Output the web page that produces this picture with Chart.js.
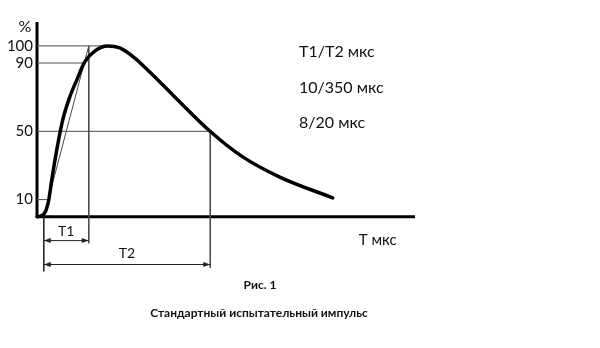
<!DOCTYPE html>
<html lang="ru">
<head>
<meta charset="utf-8">
<title>Стандартный испытательный импульс</title>
<script src="https://cdn.jsdelivr.net/npm/chart.js@4/dist/chart.umd.min.js"></script>
<style>
  html, body { margin: 0; padding: 0; background: #fff; }
  #wrap { width: 600px; height: 348px; }
</style>
</head>
<body>
<div id="wrap"><canvas id="pulse" width="600" height="348"></canvas></div>
<script>
// Impulse shape: time (relative units, virtual origin at 0) and amplitude, %
const impulseT = [-1.5, -0.67, 0.22, 0.67, 1.11, 1.78, 2.89, 4.22, 5.78, 7.33, 9.11, 11.33, 14.22, 16.89, 20.22, 23.56, 28.67, 36.89, 44.22, 52.44, 64.22];
const impulseV = [0, 0.4, 2.2, 5.1, 9.8, 21.5, 39.1, 56.7, 70.1, 80.0, 90.6, 97.0, 100, 98.8, 92.9, 84.7, 71.3, 50.2, 35.0, 23.2, 11.0];

// Amplitude levels marked on the vertical axis and where each guide line stops
const levelTicks = [10, 50, 90, 100];
const levelEnds = [1, 37, 9, 13];

// Front time T1 and half-value time T2, counted from the virtual origin T0
const T0 = 0;
const T1 = 10;
const T2 = 37;
const timeLabels = ['T1', 'T2'];
const arrowLevels = [-14, -28];        // height of the dimension arrows, %
const dropLevels = [-32, -15.5, -30];  // lower ends of the T0, T1, T2 extension lines, %

// Axis extents
const xStart = -1.5;
const xEnd = 82.5;
const yTop = 114;

const legendLines = ['T1/T2 мкс', '10/350 мкс', '8/20 мкс'];
const yAxisTitle = '%';
const xAxisTitle = 'Т мкс';
const figureLabel = 'Рис. 1';
const figureCaption = 'Стандартный испытательный импульс';

const FONT = "Lato, 'Open Sans', 'DejaVu Sans', sans-serif";
const GUIDE = '#4a4a4a';

function seg(x1, y1, x2, y2, color, width) {
  return {
    data: [{x: x1, y: y1}, {x: x2, y: y2}],
    borderColor: color, borderWidth: width,
    pointRadius: 0, tension: 0, clip: false, order: 5
  };
}

const datasets = [];
// horizontal level guides
levelTicks.forEach((v, i) => datasets.push(seg(xStart, v, levelEnds[i], v, GUIDE, 1)));
// straight line through the 10% and 90% points (defines T0 and T1)
datasets.push(seg(T0, 0, T1, 100, GUIDE, 1));
// vertical extension lines
datasets.push(seg(T0, 0, T0, dropLevels[0], '#222', 1));
datasets.push(seg(T1, 100, T1, dropLevels[1], GUIDE, 1));
datasets.push(seg(T2, 50, T2, dropLevels[2], GUIDE, 1));
// dimension arrows
datasets.push(seg(T0, arrowLevels[0], T1, arrowLevels[0], '#222', 1));
datasets.push(seg(T0, arrowLevels[1], T2, arrowLevels[1], '#222', 1));
// axes
datasets.push(seg(xStart, 0, xEnd, 0, '#000', 3));
datasets.push(seg(xStart, 0, xStart, yTop, '#000', 3));
// the impulse itself
datasets.push({
  data: impulseT.map((t, i) => ({x: t, y: impulseV[i]})),
  borderColor: '#000', borderWidth: 3.5,
  pointRadius: 0, cubicInterpolationMode: 'monotone',
  borderCapStyle: 'round', borderJoinStyle: 'round',
  clip: false, order: 1
});

const annotations = {
  id: 'annotations',
  afterDatasetsDraw(chart) {
    const {ctx, scales: {x, y}} = chart;
    ctx.save();

    // arrow heads on the dimension lines
    ctx.fillStyle = '#222';
    const head = (px, py, dir) => {
      ctx.beginPath();
      ctx.moveTo(px, py);
      ctx.lineTo(px - dir * 7, py - 2.5);
      ctx.lineTo(px - dir * 7, py + 2.5);
      ctx.closePath();
      ctx.fill();
    };
    [[T1, arrowLevels[0]], [T2, arrowLevels[1]]].forEach(([t, lv]) => {
      const py = y.getPixelForValue(lv);
      head(x.getPixelForValue(T0), py, -1);
      head(x.getPixelForValue(t), py, 1);
    });

    ctx.fillStyle = '#111';
    ctx.textBaseline = 'middle';

    // level tick labels
    ctx.font = '15px ' + FONT;
    ctx.textAlign = 'right';
    levelTicks.forEach(v => ctx.fillText(String(v), x.left - 4, y.getPixelForValue(v)));

    // axis titles
    ctx.textAlign = 'center';
    ctx.font = '16px ' + FONT;
    ctx.fillText(yAxisTitle, x.left - 12, y.getPixelForValue(yTop) + 5);
    ctx.textAlign = 'left';
    ctx.font = '15px ' + FONT;
    ctx.fillText(xAxisTitle, x.getPixelForValue(70), y.getPixelForValue(-13.5));

    // T1 / T2 labels above their arrows
    ctx.textAlign = 'center';
    ctx.font = '14px ' + FONT;
    ctx.fillText(timeLabels[0], x.getPixelForValue((T0 + T1) / 2), y.getPixelForValue(arrowLevels[0]) - 9);
    ctx.fillText(timeLabels[1], x.getPixelForValue((T0 + T2) / 2), y.getPixelForValue(arrowLevels[1]) - 11);

    // standard impulse designations
    ctx.textAlign = 'left';
    ctx.font = '16px ' + FONT;
    legendLines.forEach((s, i) => ctx.fillText(s, 299, 52 + i * 35.5));

    // figure caption
    ctx.textAlign = 'center';
    ctx.font = 'bold 12px ' + FONT;
    ctx.fillText(figureLabel, 260, 285);
    ctx.fillText(figureCaption, 259, 313);

    ctx.restore();
  }
};

new Chart(document.getElementById('pulse'), {
  type: 'line',
  data: { datasets },
  options: {
    responsive: false,
    animation: false,
    devicePixelRatio: 1,
    layout: { padding: { left: 37, right: 185, top: 22, bottom: 63 } },
    plugins: { legend: { display: false }, tooltip: { enabled: false }, title: { display: false } },
    scales: {
      x: { type: 'linear', min: xStart, max: xEnd, display: false },
      y: { type: 'linear', min: -40, max: yTop, display: false }
    }
  },
  plugins: [annotations]
});
</script>
</body>
</html>
